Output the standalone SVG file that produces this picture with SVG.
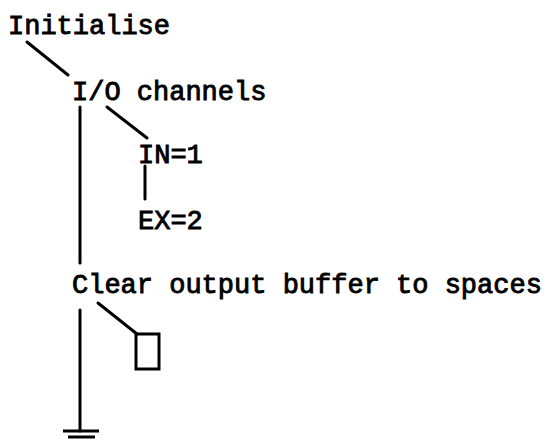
<svg xmlns="http://www.w3.org/2000/svg" width="549" height="443" viewBox="0 0 549 443">
<style>
text{font-family:"Liberation Mono","Courier New",monospace;font-size:27px;fill:#000;stroke:#000;stroke-width:0.9}
.c line{stroke:#000;stroke-width:3;fill:none;stroke-linecap:round}
.s{stroke:#000;stroke-width:3;fill:none}
</style>
<rect width="549" height="443" fill="#fff"/>
<g id="n-init"><text x="8" y="34">Initialise</text></g>
<g id="n-io"><text x="72" y="100">I/O channels</text></g>
<g id="n-in"><text x="138" y="163">IN=1</text></g>
<g id="n-ex"><text x="138" y="229">EX=2</text></g>
<g id="n-clear"><text x="72" y="293">Clear output buffer to spaces</text></g>
<g id="n-box"><rect class="s" x="136" y="334" width="23" height="35"/></g>
<g id="n-ground"><line class="s" x1="63" y1="431" x2="99" y2="431"/><line class="s" x1="68" y1="437" x2="95" y2="437"/></g>
<g class="c" id="connectors">
<line x1="27" y1="42" x2="68" y2="75"/>
<line x1="107" y1="107" x2="147" y2="138"/>
<line x1="80" y1="107" x2="80" y2="263"/>
<line x1="145" y1="166" x2="145" y2="199"/>
<line x1="98" y1="303" x2="137" y2="334"/>
<line x1="80" y1="310" x2="80" y2="431"/>
</g>
</svg>
